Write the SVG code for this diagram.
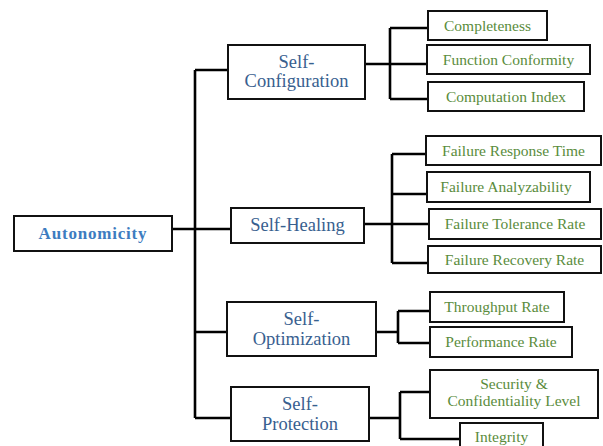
<svg xmlns="http://www.w3.org/2000/svg" width="603" height="446" viewBox="0 0 603 446">
<style>
.box{fill:#fff;stroke:#111;stroke-width:2}
.ln{fill:none;stroke:#000;stroke-width:2.6;stroke-linejoin:miter}
.t1{font-family:"Liberation Serif",serif;font-size:18.5px;fill:#38608f;text-anchor:middle}
.t0{font-family:"Liberation Serif",serif;font-size:17px;font-weight:bold;fill:#3d7cc0;text-anchor:middle;letter-spacing:0.8px}
.t2{font-family:"Liberation Serif",serif;font-size:15.5px;fill:#5a8c3c;text-anchor:middle}
</style>
<rect width="603" height="446" fill="#fff"/>
<g id="connectors">
<path class="ln" d="M172 229H231M195 70V418M195 70H228M195 332H227M195 418H231"/>
<path class="ln" d="M365 64H428M390 28V99M390 28H428M390 99H428"/>
<path class="ln" d="M364 224H429M392 154V263M392 154H426M392 194H427M392 263H428"/>
<path class="ln" d="M376 332H398M398 311V343M398 311H430M398 343H430"/>
<path class="ln" d="M369 418H400M400 392V439M400 392H430M400 439H460"/>
</g>
<g id="autonomicity"><rect class="box" x="14" y="216" width="158" height="35"/><text class="t0" x="93" y="239">Autonomicity</text></g>
<g id="self-configuration"><rect class="box" x="228" y="45" width="137" height="54"/><text class="t1" x="296.5" y="68">Self-</text><text class="t1" x="296.5" y="87">Configuration</text></g>
<g id="self-healing"><rect class="box" x="231" y="208" width="133" height="35"/><text class="t1" x="297.5" y="231">Self-Healing</text></g>
<g id="self-optimization"><rect class="box" x="227" y="302" width="149" height="54"/><text class="t1" x="301.5" y="324.5">Self-</text><text class="t1" x="301.5" y="344.5">Optimization</text></g>
<g id="self-protection"><rect class="box" x="231" y="387" width="138" height="54"/><text class="t1" x="300" y="409.5">Self-</text><text class="t1" x="300" y="429.5">Protection</text></g>
<g id="completeness"><rect class="box" x="428" y="11" width="119" height="29"/><text class="t2" x="487.5" y="30.5">Completeness</text></g>
<g id="function-conformity"><rect class="box" x="427" y="45" width="163" height="29"/><text class="t2" x="508.5" y="64.5">Function Conformity</text></g>
<g id="computation-index"><rect class="box" x="428" y="82" width="156" height="29"/><text class="t2" x="506" y="101.5">Computation Index</text></g>
<g id="failure-response-time"><rect class="box" x="426" y="136" width="175" height="29"/><text class="t2" x="513.5" y="155.5">Failure Response Time</text></g>
<g id="failure-analyzability"><rect class="box" x="427" y="172" width="163" height="30"/><text class="t2" x="506" y="191.5">Failure Analyzability</text></g>
<g id="failure-tolerance-rate"><rect class="box" x="429" y="209" width="172" height="30"/><text class="t2" x="515" y="229">Failure Tolerance Rate</text></g>
<g id="failure-recovery-rate"><rect class="box" x="428" y="246" width="173" height="27"/><text class="t2" x="514.5" y="265">Failure Recovery Rate</text></g>
<g id="throughput-rate"><rect class="box" x="430" y="292" width="134" height="30"/><text class="t2" x="497" y="312">Throughput Rate</text></g>
<g id="performance-rate"><rect class="box" x="430" y="327" width="142" height="30"/><text class="t2" x="501" y="346.5">Performance Rate</text></g>
<g id="security-confidentiality"><rect class="box" x="430" y="370" width="168" height="48"/><text class="t2" x="514" y="389">Security &amp;</text><text class="t2" x="514" y="406">Confidentiality Level</text></g>
<g id="integrity"><rect class="box" x="460" y="423" width="83" height="30"/><text class="t2" x="501.5" y="442">Integrity</text></g>
</svg>
